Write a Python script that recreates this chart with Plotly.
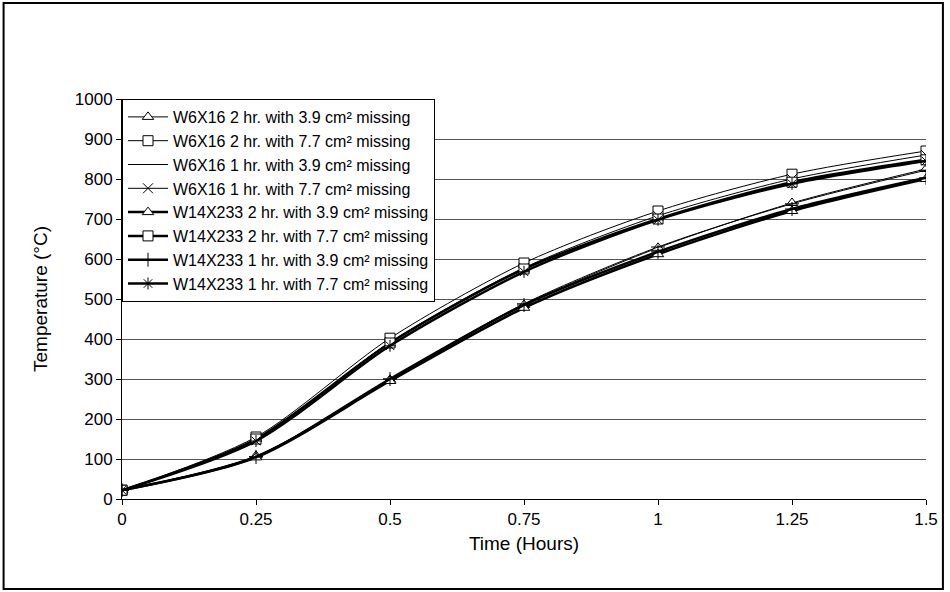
import plotly.graph_objects as go

time_h = [0, 0.25, 0.5, 0.75, 1, 1.25, 1.5]
time_labels = ["0", "0.25", "0.5", "0.75", "1", "1.25", "1.5"]

series_names = [
    "W6X16 2 hr. with 3.9 cm² missing",
    "W6X16 2 hr. with 7.7 cm² missing",
    "W6X16 1 hr. with 3.9 cm² missing",
    "W6X16 1 hr. with 7.7 cm² missing",
    "W14X233 2 hr. with 3.9 cm² missing",
    "W14X233 2 hr. with 7.7 cm² missing",
    "W14X233 1 hr. with 3.9 cm² missing",
    "W14X233 1 hr. with 7.7 cm² missing",
]

w6_2hr_39 = [22, 108, 298, 485, 628, 740, 825]
w6_2hr_77 = [22, 155, 402, 590, 720, 812, 870]
w6_1hr_39 = [22, 106, 300, 488, 630, 738, 822]
w6_1hr_77 = [22, 148, 392, 578, 708, 800, 860]
w14_2hr_39 = [22, 104, 295, 478, 612, 720, 800]
w14_2hr_77 = [22, 150, 390, 575, 700, 792, 848]
w14_1hr_39 = [22, 105, 300, 485, 618, 725, 803]
w14_1hr_77 = [22, 145, 383, 568, 698, 788, 845]

series_values = [w6_2hr_39, w6_2hr_77, w6_1hr_39, w6_1hr_77,
                 w14_2hr_39, w14_2hr_77, w14_1hr_39, w14_1hr_77]

symbols = ["triangle-up", "square", "line-ew", "x-thin",
           "triangle-up", "square", "cross-thin", "asterisk"]
widths = [1, 1, 1, 1, 2.5, 2.5, 2.5, 2.5]

fig = go.Figure()
for name, vals, sym, w in zip(series_names, series_values, symbols, widths):
    fig.add_trace(go.Scatter(
        x=time_h, y=vals, name=name, mode="lines+markers",
        line=dict(color="black", width=w, shape="spline", smoothing=0.8),
        marker=dict(symbol=sym, size=10, color="white",
                    line=dict(color="black", width=1)),
    ))

L, T, PW, PH = 122, 99, 808, 400
W, H = 950, 592

fig.update_layout(
    width=W, height=H,
    margin=dict(l=L, r=W - L - PW, t=T, b=H - T - PH),
    paper_bgcolor="white", plot_bgcolor="white",
    font=dict(family="Arial, Liberation Sans, sans-serif", size=17, color="black"),
    showlegend=True,
    legend=dict(x=0, y=1, xanchor="left", yanchor="top",
                bgcolor="white", bordercolor="black", borderwidth=1,
                font=dict(size=16), tracegroupgap=0, itemwidth=40),
    xaxis=dict(range=[0, 1.5], tickvals=time_h, ticktext=time_labels,
               showgrid=False, showline=True, linecolor="black", linewidth=1,
               ticks="outside", ticklen=5, tickcolor="black",
               tickfont=dict(size=17),
               title=dict(text="Time (Hours)", font=dict(size=19), standoff=8),
               zeroline=False),
    yaxis=dict(range=[0, 1000], dtick=100, showgrid=True, gridcolor="#555555",
               gridwidth=1, showline=True, linecolor="black", linewidth=1,
               ticks="outside", ticklen=5, tickcolor="black",
               tickfont=dict(size=17),
               title=dict(text="Temperature (°C)", font=dict(size=19), standoff=22),
               zeroline=False),
    shapes=[dict(type="rect", xref="paper", yref="paper",
                 x0=(3 - L) / PW, x1=(947 - L) / PW,
                 y0=(T + PH - 589) / PH, y1=(T + PH - 3) / PH,
                 line=dict(color="black", width=2), fillcolor="rgba(0,0,0,0)",
                 layer="below")],
)

fig.write_html("out.html")
